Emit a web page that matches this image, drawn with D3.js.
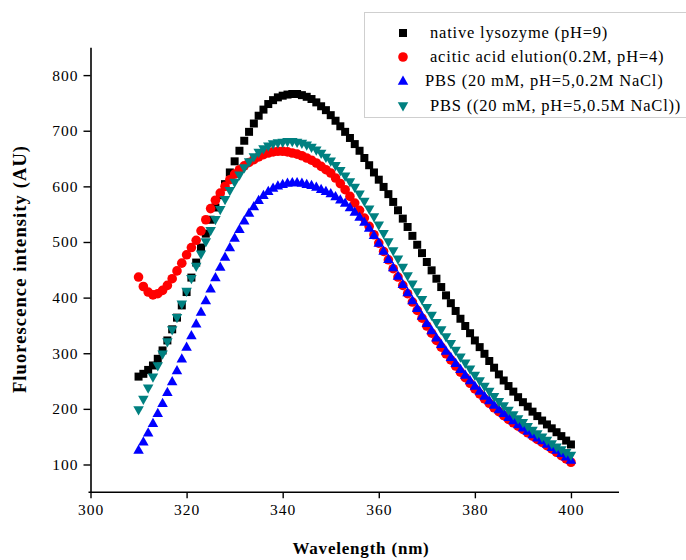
<!DOCTYPE html>
<html>
<head>
<meta charset="utf-8">
<script src="https://cdn.jsdelivr.net/npm/d3@7"></script>
<style>
  body { margin: 0; background: #fff; }
  text { font-family: "Liberation Serif", "Times New Roman", serif; }
</style>
</head>
<body>
<script>
// wavelength (nm), one reading per nm
var wavelength = [
  310,311,312,313,314,315,316,317,318,319,
  320,321,322,323,324,325,326,327,328,329,
  330,331,332,333,334,335,336,337,338,339,
  340,341,342,343,344,345,346,347,348,349,
  350,351,352,353,354,355,356,357,358,359,
  360,361,362,363,364,365,366,367,368,369,
  370,371,372,373,374,375,376,377,378,379,
  380,381,382,383,384,385,386,387,388,389,
  390,391,392,393,394,395,396,397,398,399,400
];

var nativeLys = [
  258,263,270,278,290,305,323,343,364,386,
  410,436,463,490,515,540,562,584,604,625,
  645,664,682,698,713,727,738,748,755,760,
  763,765,766,766,764,761,757,751,744,737,
  728,718,708,698,687,676,664,651,638,625,
  612,599,586,572,557,542,527,511,495,480,
  464,449,434,419,404,390,376,362,349,336,
  323,311,299,286,274,262,251,241,231,221,
  212,204,195,187,179,172,165,158,151,143,136
];

var aceticElution = [
  437,420,410,405,407,413,422,434,448,462,
  477,490,503,520,540,560,575,588,600,612,
  622,630,637,643,648,653,657,660,662,663,
  663,662,660,658,655,651,647,642,636,630,
  624,615,605,594,582,570,557,543,528,513,
  498,483,468,452,437,422,407,392,377,363,
  349,336,323,311,299,288,277,266,256,246,
  236,227,218,210,202,195,188,181,175,169,
  163,157,151,145,140,134,128,122,116,110,104
];

var pbs02 = [
  126,141,157,174,192,210,230,249,269,290,
  311,332,353,374,395,416,436,455,473,490,
  507,523,538,552,564,575,584,591,597,601,
  604,606,607,607,606,604,602,599,595,591,
  587,582,576,570,562,554,545,536,525,512,
  498,484,469,454,439,424,409,395,381,367,
  354,341,328,316,304,293,282,271,261,251,
  241,232,223,215,207,199,192,185,179,172,
  166,160,154,148,143,137,131,126,120,114,108
];

var pbs05 = [
  198,217,237,257,277,298,320,342,364,388,
  411,434,456,478,500,520,540,558,576,592,
  607,620,633,644,653,661,667,672,676,678,
  679,680,680,679,677,674,670,665,659,652,
  645,637,628,618,608,598,586,573,559,545,
  530,515,500,484,469,454,439,424,410,396,
  382,368,355,342,329,317,305,293,282,271,
  260,250,240,231,222,213,205,197,189,182,
  175,168,161,155,149,143,137,131,126,121,116
];

var seriesNames = [
  "native lysozyme (pH=9)",
  "acitic acid elution(0.2M, pH=4)",
  "PBS (20 mM, pH=5,0.2M NaCl)",
  "PBS ((20 mM, pH=5,0.5M NaCl))"
];
var seriesValues = [nativeLys, aceticElution, pbs02, pbs05];
var seriesColors = ["#000000", "#ff0000", "#0000ff", "#008080"];
var seriesShapes = ["square", "circle", "up", "down"];

var xMajor = [300, 320, 340, 360, 380, 400];
var xMinor = [310, 330, 350, 370, 390, 410];
var yMajor = [100, 200, 300, 400, 500, 600, 700, 800];
var yMinor = [150, 250, 350, 450, 550, 650, 750, 850];

var W = 686, H = 560;
var svg = d3.select("body").append("svg").attr("width", W).attr("height", H);

var x = d3.scaleLinear().domain([300, 410]).range([90.5, 619]);
var y = d3.scaleLinear().domain([50, 850]).range([492.3, 47.3]);

// markers
var sym = {
  square: function (s) { return "M" + (-s) + "," + (-s) + "h" + (2 * s) + "v" + (2 * s) + "h" + (-2 * s) + "Z"; },
  circle: function (s) { return "M" + (-s) + ",0a" + s + "," + s + " 0 1,0 " + (2 * s) + ",0a" + s + "," + s + " 0 1,0 " + (-2 * s) + ",0Z"; },
  up: function (s) { return "M0," + (-s * 1.1) + "L" + (s * 1.05) + "," + (s * 0.75) + "L" + (-s * 1.05) + "," + (s * 0.75) + "Z"; },
  down: function (s) { return "M0," + (s * 1.1) + "L" + (s * 1.05) + "," + (-s * 0.75) + "L" + (-s * 1.05) + "," + (-s * 0.75) + "Z"; }
};
var sizes = { square: 4, circle: 4.8, up: 5, down: 5 };

seriesValues.forEach(function (vals, k) {
  var pts = vals.map(function (v, i) { return [wavelength[i], v]; });
  svg.append("g")
    .selectAll("path")
    .data(pts)
    .enter().append("path")
    .attr("transform", function (d) { return "translate(" + x(d[0]) + "," + y(d[1]) + ")"; })
    .attr("d", sym[seriesShapes[k]](sizes[seriesShapes[k]]))
    .attr("fill", seriesColors[k]);
});

// axes
var gx = svg.append("g").attr("transform", "translate(0," + y(50) + ")");
gx.call(d3.axisBottom(x).tickValues(xMinor).tickFormat("").tickSize(5).tickSizeOuter(0));
gx.call(d3.axisBottom(x).tickValues(xMajor).tickSize(6).tickPadding(6).tickSizeOuter(0));
gx.selectAll("path.domain").attr("d", "M" + (x(300) - 2) + ",0H" + x(410));

var gy = svg.append("g").attr("transform", "translate(" + x(300) + ",0)");
gy.call(d3.axisLeft(y).tickValues(yMinor).tickFormat("").tickSize(5).tickSizeOuter(0));
gy.call(d3.axisLeft(y).tickValues(yMajor).tickSize(7).tickPadding(5).tickSizeOuter(0));

svg.selectAll(".domain").attr("stroke", "#000").attr("stroke-width", 1.6);
svg.selectAll(".tick line").attr("stroke", "#000").attr("stroke-width", 1.4);
svg.selectAll(".tick text")
  .attr("font-family", "Liberation Serif, serif")
  .attr("font-size", 15.5)
  .attr("letter-spacing", 1)
  .attr("fill", "#000");

// axis titles
svg.append("text")
  .attr("x", 361).attr("y", 554)
  .attr("text-anchor", "middle")
  .attr("font-size", 17).attr("font-weight", "bold")
  .attr("letter-spacing", 0.8)
  .text("Wavelength (nm)");

svg.append("text")
  .attr("transform", "translate(26,269) rotate(-90)")
  .attr("text-anchor", "middle")
  .attr("font-size", 18.5).attr("font-weight", "bold")
  .attr("letter-spacing", 1.1)
  .text("Fluorescence intensity (AU)");

// legend
var lg = svg.append("g");
lg.append("rect")
  .attr("x", 364.5).attr("y", 12.5).attr("width", 330).attr("height", 105)
  .attr("fill", "#fff").attr("stroke", "#cfcfcf").attr("stroke-width", 1);

var rowY = [33, 57, 81, 106];
var textX = [430, 430, 425, 430];
seriesNames.forEach(function (name, k) {
  lg.append("path")
    .attr("transform", "translate(403," + rowY[k] + ")")
    .attr("d", sym[seriesShapes[k]](sizes[seriesShapes[k]]))
    .attr("fill", seriesColors[k]);
  lg.append("text")
    .attr("x", textX[k]).attr("y", rowY[k] + 5)
    .attr("font-size", 16.5)
    .attr("letter-spacing", 0.8)
    .attr("fill", "#000")
    .text(name);
});
</script>
</body>
</html>
